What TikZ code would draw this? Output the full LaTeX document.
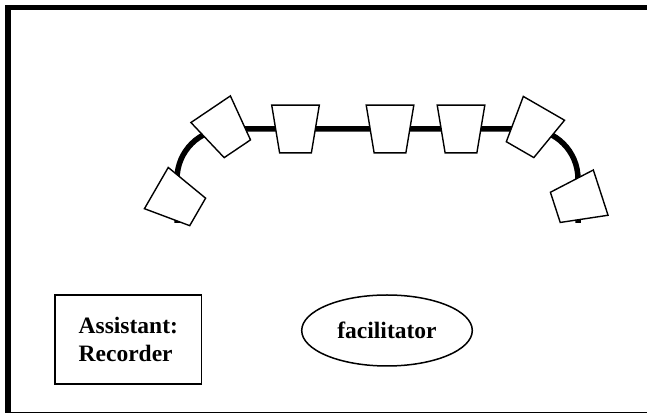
\documentclass[tikz,border=0pt]{standalone}
\usepackage{fontspec}
\setmainfont{Liberation Serif}
\usetikzlibrary{positioning,shapes.geometric,backgrounds}

\begin{document}
\begin{tikzpicture}[x=1pt, y=1pt,
  chair/.style={trapezium, draw, fill=white, line width=1.4pt, trapezium left angle=104, trapezium right angle=104, trapezium stretches=true, minimum width=47.6pt, minimum height=47.7pt, inner sep=1pt},
  rail/.style={line width=5.5pt, rounded corners=50pt},
  role/.style={draw, line width=1.5pt, font=\fontsize{23.5}{28}\selectfont\bfseries, inner sep=0pt}
]
  \useasboundingbox (0,0) rectangle (647,414);
  % frame
  \draw[line width=5.5pt] (8,1.5) -- (8,406.5) -- (647,406.5);
  \draw[line width=1pt] (5,1.5) -- (647,1.5);

  % chairs
  \node[chair, rotate=60] (c1) at (177,214) {};
  \node[chair, rotate=34] (c2) at (224,285) {};
  \node[chair] (c3) at (295.5,285) {};
  \node[chair] (c4) at (390,285) {};
  \node[chair] (c5) at (461,285) {};
  \node[chair, rotate=-30] (c6) at (532,285) {};
  \node[chair, rotate=-72] (c7) at (578,214) {};
  \coordinate (lfoot) at (177,191);
  \coordinate (rfoot) at (578,191);
  \begin{scope}[on background layer]
    \draw[rail] (lfoot) -- (lfoot |- c3) -- (rfoot |- c3) -- (rfoot);
  \end{scope}

  \node[role, minimum width=146.7pt, minimum height=89pt, align=left] (recorder) at (128.3,74.5) {Assistant:\\Recorder};
  \node[role, ellipse, minimum width=170.6pt, minimum height=71pt] (facil) at (387,83.5) {facilitator};
\end{tikzpicture}
\end{document}
